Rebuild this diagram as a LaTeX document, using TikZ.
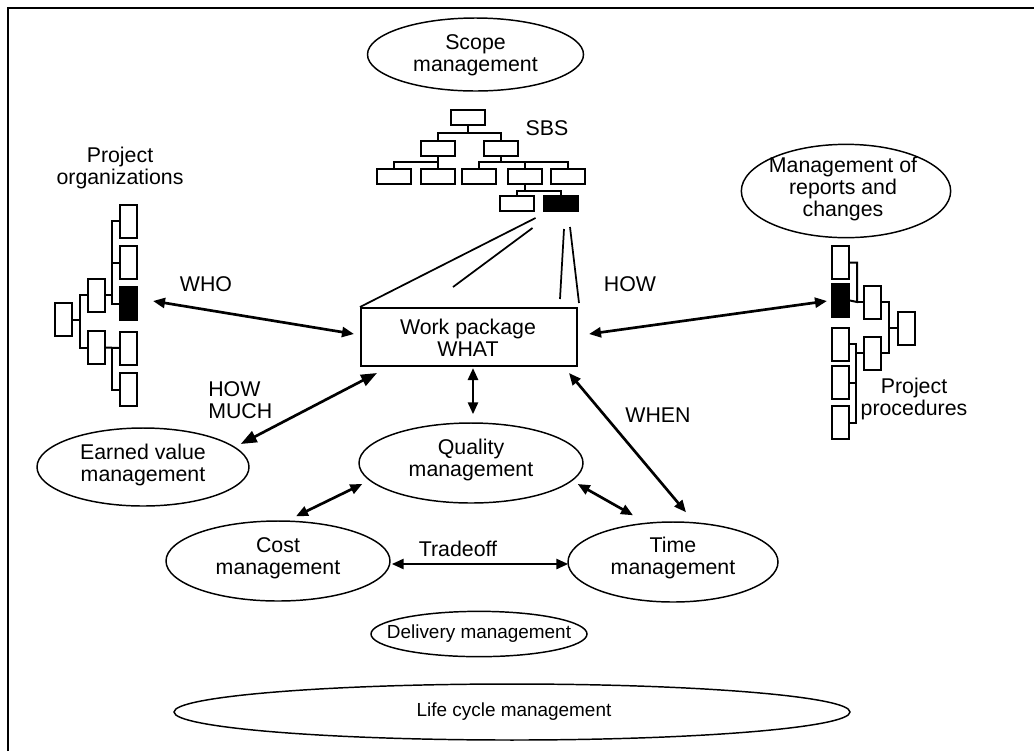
\documentclass[tikz,border=0pt]{standalone}
\usepackage{fontspec}
\setmainfont{Liberation Sans}
\usetikzlibrary{arrows.meta,shapes.geometric,calc}
\begin{document}
\begin{tikzpicture}[x=0.75pt,y=-0.75pt,
  lbl/.style={font=\fontsize{16}{16.5}\selectfont, align=center, inner sep=0pt},
  slbl/.style={font=\fontsize{14.2}{15}\selectfont, align=center, inner sep=0pt},
  oval/.style={draw, ellipse, line width=1.1pt, inner sep=0pt},
  sbox/.style={draw, rectangle, line width=1.5pt, inner sep=0pt, minimum width=25.5pt, minimum height=11.25pt},
  vbox/.style={draw, rectangle, line width=1.5pt, inner sep=0pt, minimum width=12.75pt, minimum height=24.75pt},
  tline/.style={line width=1.5pt},
  zline/.style={line width=1.3pt},
  dbl/.style={line width=2pt, {Triangle[length=9pt,width=7.5pt]}-{Triangle[length=9pt,width=7.5pt]}},
  bigdbl/.style={line width=2pt, {Triangle[length=12pt,width=9pt]}-{Triangle[length=12pt,width=9pt]}},
  filledbox/.style={fill=black}
]
\useasboundingbox (0,0) rectangle (1034,751);
\fill[white] (0,0) rectangle (1034,751);
% frame
\draw[line width=1.5pt] (8,751) -- (8,8) -- (1034,8);

% ellipses
\node[oval, minimum width=162pt, minimum height=54.75pt] (scope) at (475.5,54.5) {};
\node[lbl] (tscope) at (475.5,55) {Scope\\management};

\node[oval, minimum width=157pt, minimum height=70pt] (rep) at (846,191) {};
\node[lbl] (trep) at (843,189) {Management of\\reports and\\changes};

\node[oval, minimum width=159pt, minimum height=58.5pt] (ev) at (143,467) {};
\node[lbl] (tev) at (143,465) {Earned value\\management};

\node[oval, minimum width=168pt, minimum height=60pt] (qm) at (471,463) {};
\node[lbl] (tqm) at (471,460) {Quality\\management};

\node[oval, minimum width=168pt, minimum height=60pt] (cm) at (278,561) {};
\node[lbl] (tcm) at (278,558) {Cost\\management};

\node[oval, minimum width=157.5pt, minimum height=60pt] (tm) at (673,562) {};
\node[lbl] (ttm) at (673,558) {Time\\management};

\node[oval, minimum width=162pt, minimum height=34pt] (dm) at (479,634) {};
\node[slbl] (tdm) at (479,634) {Delivery management};

\node[oval, minimum width=507pt, minimum height=42pt] (lc) at (512,712) {};
\node[slbl] (tlc) at (514,712) {Life cycle management};

% work package
\node[draw, rectangle, line width=1.5pt, minimum width=162pt, minimum height=43.5pt, inner sep=0pt] (wp) at (469,337) {};
\node[lbl] (twp) at (468,338) {Work package\\WHAT};

% SBS tree
\node[sbox] (s1) at (467.5,117.5) {};
\node[sbox] (s2) at (437.5,148) {};
\node[sbox] (s3) at (500.5,148) {};
\node[sbox] (s4) at (393.5,176) {};
\node[sbox] (s5) at (437.5,176) {};
\node[sbox] (s6) at (479,176) {};
\node[sbox] (s7) at (524.5,176) {};
\node[sbox] (s8) at (567.5,176) {};
\node[sbox] (s9) at (516.5,203.5) {};
\node[sbox, filledbox] (s10) at (560.5,203.5) {};
\node[lbl] (sbs) at (547,128) {SBS};

\draw[tline] (s1.south) -- (467.5,133);
\draw[tline] (s2.north) |- (467.5,133) -| (s3.north);
\draw[tline] (s2.south) -- (437.5,162);
\draw[tline] (s4.north) |- (437.5,162) -| (s5.north);
\draw[tline] (s3.south) -- (500.5,162);
\draw[tline] (s6.north) |- (500.5,162) -| (s8.north);
\draw[tline] (s7.north) -- (524.5,162);
\draw[tline] (s7.south) -- (524.5,191);
\draw[tline] (s9.north) |- (524.5,191) -| (s10.north);

% zoom lines
\draw[zline] ($(s10.south west)+(-7,6)$) -- (wp.north west);
\draw[zline] ($(s10.south west)+(-10,16)$) -- ($(wp.north west)+(93,-20)$);
\draw[zline] ($(s10.south)+(3.5,17)$) -- ($(wp.north)+(91,-8)$);
\draw[zline] ($(s10.south)+(9.5,15)$) -- ($(wp.north east)+(1,-4)$);

% Project organizations tree
\node[lbl] (torg) at (120,168) {Project\\organizations};
\node[vbox] (oA) at (128.5,221) {};
\node[vbox] (oB) at (128.5,262.5) {};
\node[vbox, filledbox] (oC) at (128.5,303.5) {};
\node[vbox] (oD) at (128.5,348) {};
\node[vbox] (oE) at (128.5,389.5) {};
\node[vbox] (oF) at (96,295) {};
\node[vbox] (oG) at (96,347.5) {};
\node[vbox] (oH) at (63.5,319.5) {};

\draw[tline] (oH.east) -- (80,319.5);
\draw[tline] (oF.west) -| (80,319.5) |- (oG.west);
\draw[tline] (oF.east) -- (112,295);
\draw[tline] (oA.west) -| (112,295) |- (oC.west);
\draw[tline] (oB.west) -- (112,262.5);
\draw[tline] (oG.east) -- (oD.west);
\draw[tline] (112,347.5) |- (oE.west);

% Project procedures tree
\node[lbl] (tproc) at (914,399) {Project\\procedures};
\node[vbox] (p1) at (840.5,262.5) {};
\node[vbox, filledbox] (p2) at (840.5,300.5) {};
\node[vbox] (p3) at (840.5,344) {};
\node[vbox] (p4) at (840.5,382.5) {};
\node[vbox] (p5) at (840.5,422.5) {};
\node[vbox] (q1) at (872.5,302) {};
\node[vbox] (q2) at (872.5,353) {};
\node[vbox] (r1) at (906,328) {};

\draw[tline] (r1.west) -- (889,328);
\draw[tline] (q1.east) -| (889,328) |- (q2.east);
\draw[tline] (q1.west) -- (857,302);
\draw[tline] (p1.east) -| (857,302) -- (p2.east);
\draw[tline] (q2.west) -- (856,353);
\draw[tline] (p3.east) -| (856,353) |- (p5.east);
\draw[tline] (p4.east) -- (856,382.5);

% arrows
\draw[dbl] ($(oC.east)+(15,-2.5)$) -- ($(wp.west)+(-6,-3)$);
\node[lbl] (who) at (206,284) {WHO};
\draw[dbl] ($(wp.east)+(11,-3)$) -- ($(p2.west)+(-4,0.5)$);
\node[lbl] (how) at (630,284) {HOW};
\draw[bigdbl] ($(wp.south west)+(17,6)$) -- ($(ev.east)+(-9,-23)$);
\node[lbl, align=left, anchor=west] (howmuch) at (208,400) {HOW\\MUCH};
\draw[dbl] ($(wp.south)+(4,1)$) -- ($(qm.north)+(2,-8)$);
\draw[dbl] ($(qm.west)+(4,21)$) -- ($(cm.north)+(18,-4)$);
\draw[dbl] ($(qm.east)+(-6,21)$) -- ($(tm.north)+(-40,-6)$);
\draw[dbl] ($(cm.east)+(1,3)$) -- ($(tm.west)+(1,2)$);
\node[lbl] (tradeoff) at (458,549) {Tradeoff};
\draw[dbl] ($(wp.south east)+(-9,6)$) -- ($(tm.north)+(13,-9)$);
\node[lbl] (when) at (658,415) {WHEN};
\end{tikzpicture}
\end{document}
